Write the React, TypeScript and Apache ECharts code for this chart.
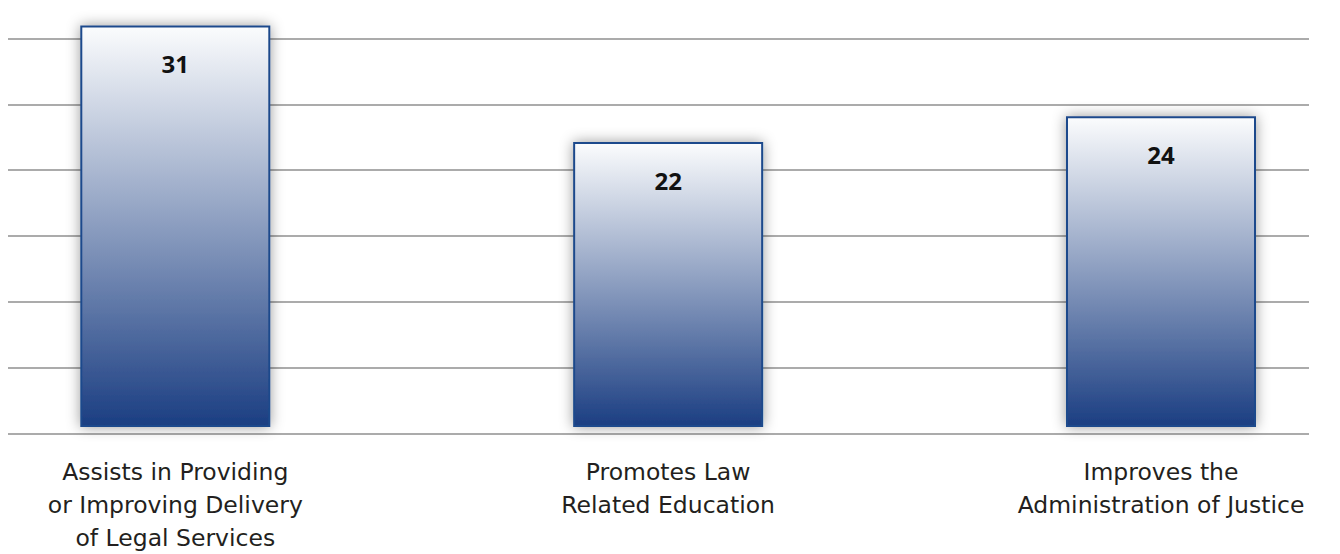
import React, { useEffect, useRef } from "react";
import * as echarts from "echarts";

const categories = [
  "Assists in Providing\nor Improving Delivery\nof Legal Services",
  "Promotes Law\nRelated Education",
  "Improves the\nAdministration of Justice",
];
const values = [31, 22, 24];
const gridTicks = [0, 5, 10, 15, 20, 25, 30];

export default function App() {
  const ref = useRef<HTMLDivElement>(null);
  useEffect(() => {
    if (!ref.current) return;
    const chart = echarts.init(ref.current, null, { renderer: "svg" });
    const yMin = gridTicks[0];
    const yMax = gridTicks[gridTicks.length - 1];
    const step = gridTicks[1] - gridTicks[0];
    const idx = categories.map((_, i) => i);
    // bar slots: centre of first at 175.3px, spacing 492.85px over a 1340px grid
    const slot = 492.85;
    const xMin = -175.3 / slot;
    const xMax = xMin + 1340 / slot;
    chart.setOption({
      animation: false,
      backgroundColor: "#ffffff",
      grid: [
        { left: 8, right: 31, top: 38.5, bottom: 120.7 },
        { left: 0, right: 0, top: 38.5, bottom: 124.7 },
      ],
      xAxis: [
        {
          type: "category",
          gridIndex: 0,
          data: categories,
          show: false,
        },
        {
          type: "value",
          gridIndex: 1,
          min: xMin,
          max: xMax,
          axisLine: { show: false },
          axisTick: { show: false },
          splitLine: { show: false },
          axisLabel: {
            customValues: idx,
            formatter: (v: number) => categories[Math.round(v)] ?? "",
            margin: 28,
            fontSize: 23.5,
            lineHeight: 33,
            color: "#231f20",
            fontFamily: "DejaVu Sans",
            align: "center",
          },
        },
      ],
      yAxis: [
        {
          type: "value",
          gridIndex: 0,
          min: yMin,
          max: yMax,
          interval: step,
          axisLine: { show: false },
          axisTick: { show: false },
          axisLabel: { show: false },
          splitLine: { show: true, lineStyle: { color: "#ababab", width: 2 } },
        },
        {
          type: "value",
          gridIndex: 1,
          min: yMin,
          max: yMax,
          interval: step,
          show: false,
          splitLine: { show: false },
        },
      ],
      series: [
        {
          type: "bar",
          xAxisIndex: 1,
          yAxisIndex: 1,
          data: values.map((v, i) => [idx[i], v]),
          barWidth: 190,
          clip: false,
          itemStyle: {
            color: new echarts.graphic.LinearGradient(0, 0, 0, 1, [
              { offset: 0, color: "#fbfcfd" },
              { offset: 1, color: "#1b3e82" },
            ]),
            borderColor: "#1f4a8c",
            borderWidth: 2,
            shadowBlur: 14,
            shadowColor: "rgba(0,0,0,0.4)",
          },
          label: {
            show: true,
            position: "insideTop",
            distance: 26,
            fontSize: 24,
            fontWeight: "bold",
            color: "#111111",
            fontFamily: "Open Sans",
            formatter: (p: any) => String(p.value[1]),
          },
        },
      ],
    });
    return () => chart.dispose();
  }, []);
  return (
    <div
      ref={ref}
      style={{ position: "fixed", left: 0, top: 0, width: 1340, height: 554 }}
    />
  );
}
